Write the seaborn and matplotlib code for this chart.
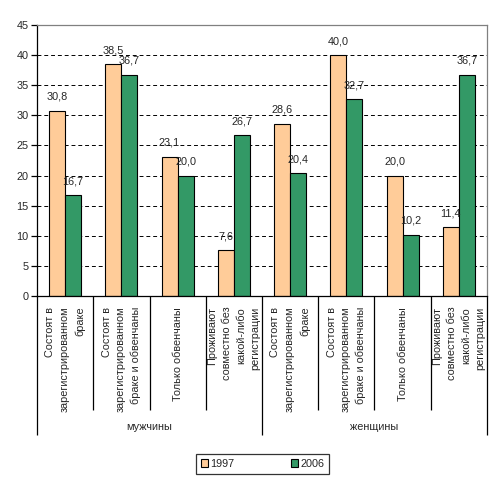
import numpy as np
import pandas as pd
import matplotlib.pyplot as plt
import matplotlib.transforms as mtransforms
from matplotlib.patches import Patch
import seaborn as sns

sns.set_style("white")
plt.rcParams['font.family'] = ['Liberation Sans', 'DejaVu Sans']

# ---- данные ----
groups = ["мужчины", "женщины"]
categories = [
    "Состоят в\nзарегистрированном\nбраке",
    "Состоят в\nзарегистрированном\nбраке и обвенчаны",
    "Только обвенчаны",
    "Проживают\nсовместно без\nкакой-либо\nрегистрации",
]
years = ["1997", "2006"]
values_1997 = [30.8, 38.5, 23.1, 7.6, 28.6, 40.0, 20.0, 11.4]
values_2006 = [16.7, 36.7, 20.0, 26.7, 20.4, 32.7, 10.2, 36.7]
colors = {"1997": "#FFCC99", "2006": "#339966"}

labels_all = [c for g in groups for c in categories]
pos = [f"{i}" for i in range(len(labels_all))]
df = pd.DataFrame({
    "pos": pos * 2,
    "year": ["1997"] * len(pos) + ["2006"] * len(pos),
    "value": values_1997 + values_2006,
})

fig = plt.figure(figsize=(5.01, 4.79), dpi=100)
ax = fig.add_axes([37 / 501, 1 - 296 / 479, 450 / 501, 271 / 479])

sns.barplot(data=df, x="pos", y="value", hue="year", order=pos,
            hue_order=years, palette=colors, saturation=1, width=0.57,
            edgecolor="black", linewidth=0.8, ax=ax, legend=False)

ax.set_xlim(-0.5, len(pos) - 0.5)
ax.set_ylim(0, 45)
ax.set_yticks(np.arange(0, 46, 5))
ax.set_xlabel("")
ax.set_ylabel("")
for y in np.arange(5, 45, 5):
    ax.axhline(y, color="black", lw=0.7, ls=(0, (4, 3)), zorder=0)

for s in ["top", "right"]:
    ax.spines[s].set_color("#808080")
for s in ["left", "bottom"]:
    ax.spines[s].set_color("black")
for s in ax.spines.values():
    s.set_linewidth(0.9)

# подписи значений
for cont, vals in zip(ax.containers, [values_1997, values_2006]):
    for bar, v in zip(cont, vals):
        ax.annotate(f"{v:.1f}".replace(".", ","),
                    (bar.get_x() + bar.get_width() / 2, bar.get_height()),
                    xytext=(0, 6.5), textcoords="offset points",
                    ha="center", va="bottom", fontsize=7.8)

# деления оси x: разделители категорий и групп
ax.set_xticks([-0.5, 3.5, 7.5])
ax.set_xticks(np.arange(0.5, 7.5, 1)[[0, 1, 2, 4, 5, 6]], minor=True)
ax.set_xticklabels([])
ax.tick_params(axis="x", which="major", length=100, width=0.9, color="black",
               direction="out", bottom=True)
ax.tick_params(axis="x", which="minor", length=82, width=0.9, color="black",
               direction="out", bottom=True)
ax.tick_params(axis="y", length=4, width=0.9, color="black", direction="out",
               left=True, labelsize=7.8, pad=2)

trans = mtransforms.blended_transform_factory(ax.transData, ax.transAxes)
for i, lab in enumerate(labels_all):
    ax.text(i, -0.04, lab, transform=trans, rotation=90, ha="center",
            va="top", multialignment="right", fontsize=7.8, linespacing=1.55)
for gi, g in enumerate(groups):
    ax.text(gi * 4 + 1.5, -0.483, g, transform=trans, ha="center",
            va="center", fontsize=7.8)

handles = [Patch(facecolor=colors[y], edgecolor="black", linewidth=0.8, label=y)
           for y in years]
leg = fig.legend(handles=handles, loc="center", bbox_to_anchor=(0.524, 0.032),
                 ncol=2, frameon=True, fancybox=False, edgecolor="black",
                 fontsize=7.8, handlelength=0.7, handleheight=0.7,
                 handletextpad=0.2, columnspacing=5.2, borderpad=0.45)
leg.get_frame().set_linewidth(0.9)

fig.savefig("out.png", dpi=100, facecolor="white")
